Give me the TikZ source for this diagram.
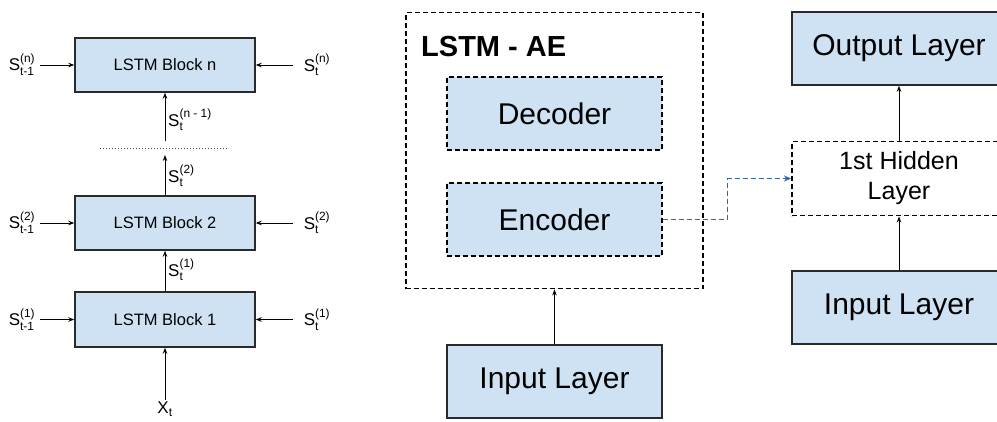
\documentclass[tikz,border=0pt]{standalone}
\usepackage{amsmath}
\usepackage{fontspec}
\setmainfont{Liberation Sans}
\usetikzlibrary{arrows.meta}
\definecolor{boxfill}{HTML}{CFE2F3}
\definecolor{boxline}{HTML}{2A2A2A}
\definecolor{bluelink}{HTML}{2F68A6}
\newcommand{\slab}[2]{S$^{\text{#2}}_{\text{#1}}$}
\tikzset{
  lstmbox/.style={draw=boxline, line width=1.4pt, fill=boxfill, minimum width=180pt, minimum height=54pt, inner sep=0pt, font=\fontsize{16.5}{19}\selectfont},
  layerbox/.style={draw=boxline, line width=1.6pt, fill=boxfill, minimum width=215pt, minimum height=73pt, inner sep=0pt, font=\fontsize{30}{34}\selectfont},
  dashbox/.style={draw=black, line width=1.8pt, dash pattern=on 5pt off 3pt, minimum width=215pt, minimum height=73pt, inner sep=0pt},
  slabel/.style={inner sep=0pt, font=\fontsize{17}{20}\selectfont},
  conn/.style={draw=black, line width=1pt, -{Stealth[length=6pt,width=4.5pt]}},
  bluedash/.style={draw=bluelink, line width=1.8pt, dash pattern=on 5pt off 3pt},
  bluetip/.style={-{Stealth[length=7pt,width=6pt,inset=2pt]}},
}
\begin{document}
\begin{tikzpicture}[x=1pt,y=-1pt]
\useasboundingbox (0,0) rectangle (997,421);
\clip (0,0) rectangle (997,421);
% ---- left: stacked LSTM ----
\node[lstmbox] (bn) at (165,65) {LSTM Block n};
\node[lstmbox] (b2) at (165,223) {LSTM Block 2};
\node[lstmbox, minimum height=55pt] (b1) at (165,319.5) {LSTM Block 1};

\node[slabel] (ln) at (22,65) {\slab{t-1}{(n)}};
\node[slabel] (l2) at (22,223) {\slab{t-1}{(2)}};
\node[slabel] (l1) at (22,319.5) {\slab{t-1}{(1)}};
\node[slabel] (rn) at (317,65) {\slab{t}{(n)}};
\node[slabel] (r2) at (317,223) {\slab{t}{(2)}};
\node[slabel] (r1) at (317,319.5) {\slab{t}{(1)}};

\coordinate (lna) at (40,65);
\coordinate (l2a) at (40,223);
\coordinate (l1a) at (40,319.5);
\coordinate (rna) at (293,65);
\coordinate (r2a) at (293,223);
\coordinate (r1a) at (293,319.5);
\draw[conn] (lna) -- (bn.west);
\draw[conn] (l2a) -- (b2.west);
\draw[conn] (l1a) -- (b1.west);
\draw[conn] (rna) -- (bn.east);
\draw[conn] (r2a) -- (b2.east);
\draw[conn] (r1a) -- (b1.east);

\coordinate (xs) at (165,400);
\node[slabel] (xt) at (165,409) {X$_{\text{t}}$};
\draw[conn] (xs) -- (b1.south);
\draw[conn] (b1.north) -- (b2.south);
\node[slabel, anchor=west] (s1) at (168,270) {\slab{t}{(1)}};
\coordinate (top2) at (165,155);
\draw[conn] (b2.north) -- (top2);
\node[slabel, anchor=west] (s2) at (168,176) {\slab{t}{(2)}};
\coordinate (dl) at (100,148);
\coordinate (dr) at (227,148);
\draw[black!70, line width=0.9pt, dash pattern=on 1pt off 2pt] (dl) -- (dr);
\coordinate (botn) at (165,141);
\draw[conn] (botn) -- (bn.south);
\node[slabel, anchor=west] (sn1) at (168,120) {\slab{t}{(n - 1)}};

% ---- middle: LSTM-AE ----
\node[dashbox, minimum width=297pt, minimum height=276pt] (ae) at (554.5,150.5) {};
\node[anchor=west, inner sep=0pt, font=\fontsize{29}{33}\selectfont\bfseries] (aet) at (421,47) {LSTM - AE};
\node[dashbox, fill=boxfill, font=\fontsize{30}{34}\selectfont] (dec) at (554.5,113.5) {Decoder};
\node[dashbox, fill=boxfill, font=\fontsize{30}{34}\selectfont] (enc) at (554.5,219.5) {Encoder};
\node[layerbox] (inm) at (554.5,381.5) {Input Layer};
\draw[conn] (inm.north) -- (ae.south);

% ---- right ----
\node[layerbox, minimum width=214pt] (out) at (899,48.5) {Output Layer};
\node[dashbox, minimum width=214pt, minimum height=74pt, align=center, font=\fontsize{25}{30}\selectfont] (hid) at (899,178.5) {1st Hidden\\Layer};
\node[layerbox, minimum width=214pt] (inr) at (899,307.5) {Input Layer};
\draw[conn] (inr.north) -- (hid.south);
\draw[conn] (hid.north) -- (out.south);

\coordinate (bend) at (727.5,219.5);
\draw[bluedash] (enc.east) -- (bend);
\draw[bluedash, bluetip] (bend) |- (hid.west);
\end{tikzpicture}
\end{document}
